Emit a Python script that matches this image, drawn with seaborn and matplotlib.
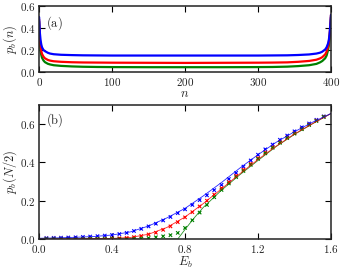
import numpy as np
import pandas as pd
import matplotlib
matplotlib.use("Agg")
import matplotlib.pyplot as plt
import seaborn as sns
from matplotlib.ticker import FuncFormatter, FixedLocator

# ---------------- data: panel (a) ----------------
n_pos = [0, 1, 2, 3, 4, 6, 8, 12, 15, 20, 30, 45, 60, 80, 100, 150, 200, 250, 300,
         320, 340, 355, 370, 380, 385, 388, 392, 394, 396, 397, 398, 399, 400]
pa_blue = [0.50, 0.36, 0.29, 0.25, 0.225, 0.20, 0.19, 0.175, 0.168, 0.162, 0.157, 0.154,
           0.152, 0.151, 0.150, 0.150, 0.150, 0.150, 0.150, 0.151, 0.152, 0.155, 0.160,
           0.168, 0.176, 0.185, 0.205, 0.225, 0.26, 0.29, 0.34, 0.42, 0.52]
pa_red = [0.48, 0.31, 0.23, 0.19, 0.165, 0.14, 0.125, 0.11, 0.104, 0.098, 0.093, 0.089,
          0.087, 0.086, 0.085, 0.084, 0.083, 0.084, 0.085, 0.086, 0.088, 0.093, 0.101,
          0.112, 0.124, 0.135, 0.16, 0.185, 0.23, 0.27, 0.33, 0.42, 0.52]
pa_green = [0.46, 0.27, 0.19, 0.155, 0.13, 0.105, 0.09, 0.075, 0.069, 0.062, 0.056, 0.051,
            0.048, 0.046, 0.045, 0.044, 0.044, 0.044, 0.045, 0.046, 0.049, 0.054, 0.062,
            0.074, 0.088, 0.10, 0.125, 0.15, 0.20, 0.24, 0.30, 0.39, 0.50]

# ---------------- data: panel (b) lines ----------------
eb_line = [0.0, 0.1, 0.2, 0.3, 0.4, 0.5, 0.6, 0.7, 0.8, 0.9, 1.0, 1.1, 1.2, 1.3, 1.4, 1.5, 1.6]
pb_blue_line = [0.004, 0.006, 0.009, 0.013, 0.021, 0.037, 0.068, 0.11, 0.16, 0.225, 0.295,
                0.37, 0.44, 0.505, 0.56, 0.61, 0.655]
pb_red_line = [0.0, 0.001, 0.001, 0.002, 0.003, 0.008, 0.025, 0.06, 0.115, 0.185, 0.262,
               0.34, 0.415, 0.485, 0.548, 0.603, 0.655]
eb_green_line = [0.0, 0.76, 0.8, 0.85, 0.9, 0.95, 1.0, 1.1, 1.2, 1.3, 1.4, 1.5, 1.6]
pb_green_line = [0.0, 0.0, 0.05, 0.11, 0.165, 0.21, 0.255, 0.335, 0.41, 0.483, 0.546, 0.602, 0.655]

# ---------------- data: panel (b) markers ----------------
eb_pts = [0.04, 0.08, 0.12, 0.16, 0.20, 0.24, 0.28, 0.32, 0.36, 0.40, 0.44, 0.48, 0.52,
          0.56, 0.60, 0.64, 0.68, 0.72, 0.76, 0.80, 0.84, 0.88, 0.92, 0.96, 1.00, 1.04,
          1.08, 1.12, 1.16, 1.20, 1.24, 1.28, 1.32, 1.36, 1.40, 1.44, 1.48, 1.52, 1.56]
pb_blue_pts = [0.005, 0.006, 0.007, 0.008, 0.009, 0.011, 0.013, 0.015, 0.018, 0.021, 0.026,
               0.032, 0.042, 0.053, 0.066, 0.080, 0.097, 0.115, 0.135, 0.155, 0.178, 0.203,
               0.228, 0.255, 0.283, 0.313, 0.345, 0.378, 0.410, 0.440, 0.468, 0.493, 0.518,
               0.540, 0.562, 0.583, 0.603, 0.622, 0.640]
pb_red_pts = [0.002, 0.002, 0.002, 0.002, 0.002, 0.002, 0.002, 0.002, 0.002, 0.003, 0.004,
              0.006, 0.010, 0.016, 0.024, 0.033, 0.048, 0.066, 0.088, 0.113, 0.140, 0.170,
              0.200, 0.232, 0.265, 0.297, 0.330, 0.362, 0.393, 0.423, 0.452, 0.480, 0.505,
              0.530, 0.552, 0.575, 0.597, 0.618, 0.638]
pb_green_pts = [0.001, 0.001, 0.001, 0.001, 0.001, 0.001, 0.001, 0.001, 0.001, 0.001, 0.001,
                0.001, 0.002, 0.003, 0.005, 0.009, 0.014, 0.020, 0.032, 0.058, 0.098, 0.138,
                0.178, 0.218, 0.256, 0.290, 0.323, 0.355, 0.387, 0.418, 0.447, 0.476, 0.502,
                0.527, 0.550, 0.573, 0.595, 0.616, 0.637]

xa_ticks = [0, 100, 200, 300, 400]
ya_ticks = [0.0, 0.2, 0.4, 0.6]
xb_ticks = [0.0, 0.4, 0.8, 1.2, 1.6]
yb_ticks = [0.0, 0.2, 0.4, 0.6]

colors = {"blue": "#0000ff", "red": "#ff0000", "green": "#008000"}

# ---------------- style ----------------
sns.set_style("ticks")
plt.rcParams["font.family"] = ["DejaVu Serif"]
plt.rcParams["mathtext.fontset"] = "cm"
plt.rcParams["axes.linewidth"] = 1.1

fig = plt.figure(figsize=(3.43, 2.76), dpi=100)
axa = fig.add_axes([0.114, 0.739, 0.851, 0.239])
axb = fig.add_axes([0.114, 0.134, 0.851, 0.486])

# panel (a)
dfa = pd.DataFrame({"n": n_pos * 3,
                    "p": pa_blue + pa_red + pa_green,
                    "s": ["blue"] * len(n_pos) + ["red"] * len(n_pos) + ["green"] * len(n_pos)})
sns.lineplot(data=dfa, x="n", y="p", hue="s", palette=colors, hue_order=["green", "red", "blue"],
             lw=1.6, legend=False, ax=axa, estimator=None, sort=True)
axa.set_xlim(0, 400)
axa.set_ylim(0, 0.6)

# panel (b)
dfl = pd.DataFrame({"E": eb_line * 2 + eb_green_line,
                    "p": pb_blue_line + pb_red_line + pb_green_line,
                    "s": ["blue"] * len(eb_line) + ["red"] * len(eb_line) + ["green"] * len(eb_green_line)})
sns.lineplot(data=dfl, x="E", y="p", hue="s", palette=colors, hue_order=["green", "red", "blue"],
             lw=0.6, legend=False, ax=axb, estimator=None, sort=True, alpha=0.85)
dfp = pd.DataFrame({"E": eb_pts * 3,
                    "p": pb_blue_pts + pb_red_pts + pb_green_pts,
                    "s": ["blue"] * len(eb_pts) + ["red"] * len(eb_pts) + ["green"] * len(eb_pts)})
sns.scatterplot(data=dfp, x="E", y="p", hue="s", palette=colors, hue_order=["green", "red", "blue"],
                marker="x", s=6, linewidth=0.8, legend=False, ax=axb)
axb.set_xlim(0, 1.6)
axb.set_ylim(0, 0.7)

fmt1 = FuncFormatter(lambda v, p: "$%.1f$" % v)
fmt0 = FuncFormatter(lambda v, p: "$%d$" % round(v))
for ax, xt, yt, xf in [(axa, xa_ticks, ya_ticks, fmt0), (axb, xb_ticks, yb_ticks, fmt1)]:
    ax.xaxis.set_major_locator(FixedLocator(xt))
    ax.yaxis.set_major_locator(FixedLocator(yt))
    ax.xaxis.set_major_formatter(xf)
    ax.yaxis.set_major_formatter(fmt1)
    ax.tick_params(direction="in", length=4, width=0.8, top=True, right=True,
                   labelsize=8, pad=3, colors="black", labelcolor="#222222")
    ax.tick_params(axis="y", pad=2.5)
    for sp in ax.spines.values():
        sp.set_visible(True)
        sp.set_color("#222222")
        sp.set_linewidth(1.1)

axa.set_xlabel("$n$", fontsize=9, labelpad=-1)
axa.set_ylabel("$p_b(n)$", fontsize=9)
axb.set_xlabel("$E_b$", fontsize=9, labelpad=0)
axb.set_ylabel("$p_b(N/2)$", fontsize=9)
axa.yaxis.set_label_coords(-0.068, 0.5)
axb.yaxis.set_label_coords(-0.068, 0.5)
axa.text(0.025, 0.88, r"$\mathrm{(a)}$", transform=axa.transAxes, fontsize=9, va="top", ha="left")
axb.text(0.025, 0.95, r"$\mathrm{(b)}$", transform=axb.transAxes, fontsize=9, va="top", ha="left")

fig.savefig("out.png", dpi=100)
